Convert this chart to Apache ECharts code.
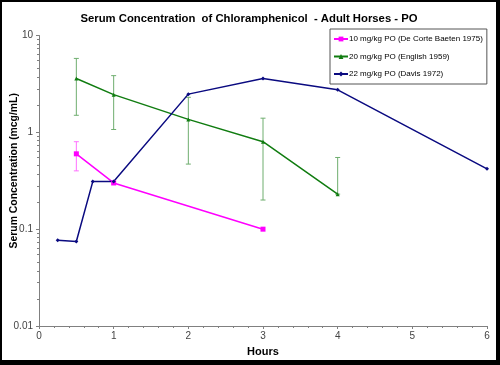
<!DOCTYPE html>
<html>
<head>
<meta charset="utf-8">
<script src="https://cdn.jsdelivr.net/npm/echarts@6/dist/echarts.min.js"></script>
<style>
html,body{margin:0;padding:0;background:#000;}
#frame{position:absolute;left:0;top:0;width:500px;height:365px;box-sizing:border-box;border-style:solid;border-color:#000;border-width:2px 4px 5px 2px;background:#fff;}
#chart{width:494px;height:358px;}
</style>
</head>
<body>
<div id="frame"><div id="chart"></div></div>
<script>
// ---- data ----
const titleText = 'Serum Concentration  of Chloramphenicol  - Adult Horses - PO';
const xName = 'Hours';
const yName = 'Serum Concentration (mcg/mL)';
const seriesNames = ['10 mg/kg PO (De Corte Baeten 1975)', '20 mg/kg PO (English 1959)', '22 mg/kg PO (Davis 1972)'];

const magX = [0.5, 1, 3];
const magY = [0.6, 0.3, 0.1];
const magErrLow = [0.4, null, null];
const magErrHigh = [0.8, null, null];

const grnX = [0.5, 1, 2, 3, 4];
const grnY = [3.6, 2.45, 1.36, 0.8, 0.23];
const grnErrLow = [1.5, 1.07, 0.47, 0.2, 0.23];
const grnErrHigh = [5.8, 3.85, 2.3, 1.4, 0.55];

const navX = [0.25, 0.5, 0.72, 1, 2, 3, 4, 6];
const navY = [0.077, 0.0745, 0.31, 0.31, 2.48, 3.6, 2.75, 0.42];

const yTicks = [0.01, 0.1, 1, 10];

// ---- build ----
const FONT = 'Liberation Sans, Arial, sans-serif';
function pts(xs, ys) { return xs.map((x, i) => [x, ys[i]]); }
function errData(xs, lo, hi) {
  const out = [];
  xs.forEach((x, i) => { if (lo[i] != null && hi[i] != null) out.push([x, lo[i], hi[i]]); });
  return out;
}
function errSeries(data, color) {
  return {
    type: 'custom',
    silent: true,
    z: 1,
    data: data,
    encode: { x: 0, y: [1, 2] },
    renderItem: function (params, api) {
      const x = api.value(0), lo = api.value(1), hi = api.value(2);
      const pLo = api.coord([x, lo]);
      const pHi = api.coord([x, hi]);
      const w = 2.5;
      const children = [
        { type: 'line', shape: { x1: pHi[0], y1: pHi[1], x2: pLo[0], y2: pLo[1] }, style: { stroke: color, lineWidth: 1 } },
        { type: 'line', shape: { x1: pHi[0] - w, y1: pHi[1], x2: pHi[0] + w, y2: pHi[1] }, style: { stroke: color, lineWidth: 1 } },
        { type: 'line', shape: { x1: pLo[0] - w, y1: pLo[1], x2: pLo[0] + w, y2: pLo[1] }, style: { stroke: color, lineWidth: 1 } }
      ];
      return { type: 'group', children: children };
    }
  };
}

const chart = echarts.init(document.getElementById('chart'), null, { renderer: 'canvas' });
const axisGray = '#808080';
const option = {
  animation: false,
  backgroundColor: '#fff',
  title: {
    text: titleText,
    left: 'center',
    top: 6.5,
    textStyle: { fontFamily: FONT, fontSize: 11.3, fontWeight: 'bold', color: '#000' }
  },
  legend: {
    orient: 'vertical',
    left: 328,
    top: 27,
    padding: [6, 4, 6, 3],
    itemGap: 9.5,
    itemWidth: 14,
    itemHeight: 6,
    borderColor: '#555',
    borderWidth: 1,
    textStyle: { fontFamily: FONT, fontSize: 8.0, color: '#000', padding: [0, 0, 0, -4] },
    data: seriesNames
  },
  grid: { left: 37, right: 9, top: 33.5, bottom: 34, containLabel: false, outerBoundsMode: 'none' },
  xAxis: {
    type: 'value',
    min: 0, max: 6, interval: 1,
    name: xName,
    nameLocation: 'middle',
    nameGap: 20,
    nameMoveOverlap: false,
    nameTextStyle: { fontFamily: FONT, fontSize: 11, fontWeight: 'bold', color: '#000' },
    axisLine: { lineStyle: { color: axisGray } },
    axisTick: { length: 3, lineStyle: { color: axisGray } },
    minorTick: { show: true, splitNumber: 5, length: 2, lineStyle: { color: axisGray } },
    splitLine: { show: false },
    axisLabel: { fontFamily: FONT, fontSize: 10, color: '#444', margin: 5 }
  },
  yAxis: {
    type: 'log',
    logBase: 10,
    min: yTicks[0], max: yTicks[yTicks.length - 1],
    name: yName,
    nameLocation: 'middle',
    nameGap: 20,
    nameMoveOverlap: false,
    nameTextStyle: { fontFamily: FONT, fontSize: 10.4, fontWeight: 'bold', color: '#000', padding: [0, 0, 0, 20] },
    axisLine: { show: true, lineStyle: { color: axisGray } },
    axisTick: { show: true, length: 3, lineStyle: { color: axisGray } },
    minorTick: { show: true, splitNumber: 10, length: 2, lineStyle: { color: axisGray } },
    splitLine: { show: false },
    axisLabel: {
      fontFamily: FONT, fontSize: 10, color: '#444', margin: 6,
      formatter: function (v) { return String(+v.toPrecision(3)); }
    }
  },
  series: [
    errSeries(errData(magX, magErrLow, magErrHigh), '#ff70ff'),
    errSeries(errData(grnX, grnErrLow, grnErrHigh), '#6fae6f'),
    {
      name: seriesNames[0], type: 'line', z: 3,
      data: pts(magX, magY),
      symbol: 'rect', symbolSize: 5,
      lineStyle: { color: '#ff00ff', width: 1.5 },
      itemStyle: { color: '#ff00ff' }
    },
    {
      name: seriesNames[1], type: 'line', z: 3,
      data: pts(grnX, grnY),
      symbol: 'triangle', symbolSize: 4,
      lineStyle: { color: '#107c10', width: 1.5 },
      itemStyle: { color: '#107c10' }
    },
    {
      name: seriesNames[2], type: 'line', z: 3,
      data: pts(navX, navY),
      symbol: 'diamond', symbolSize: 4,
      lineStyle: { color: '#0a0a80', width: 1.5 },
      itemStyle: { color: '#0a0a80' }
    }
  ]
};
chart.setOption(option);
</script>
</body>
</html>
